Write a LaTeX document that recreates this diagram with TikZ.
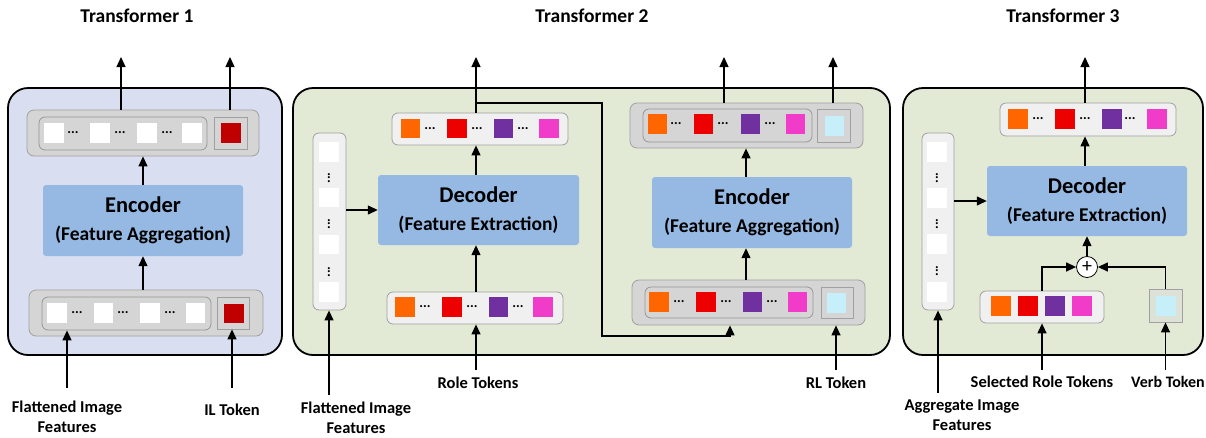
\documentclass[tikz,border=0pt]{standalone}
\usepackage{fontspec}
\setmainfont{Carlito}
\usetikzlibrary{arrows.meta}
\definecolor{bgA}{RGB}{217,223,240}
\definecolor{bgG}{RGB}{226,234,214}
\definecolor{blkC}{RGB}{149,185,226}
\definecolor{rowG}{RGB}{213,213,213}
\definecolor{rowB}{RGB}{160,160,160}
\definecolor{rowB2}{RGB}{150,150,150}
\definecolor{rowL}{RGB}{240,240,240}
\definecolor{cOr}{RGB}{255,102,0}
\definecolor{cRd}{RGB}{236,0,0}
\definecolor{cPu}{RGB}{112,48,160}
\definecolor{cPk}{RGB}{240,60,200}
\definecolor{cDR}{RGB}{192,0,0}
\definecolor{cLB}{RGB}{198,239,250}
\newcommand{\enctxt}{Encoder\\{\fontsize{19.5}{28}\selectfont (Feature Aggregation)}}
\newcommand{\dectxt}{Decoder\\{\fontsize{19.5}{28}\selectfont (Feature Extraction)}}
\begin{document}
\begin{tikzpicture}[x=1pt,y=-1pt,
  panel/.style={draw=black, line width=1.8pt, rounded corners=20pt, inner sep=0},
  grayrow/.style={draw=rowB, fill=rowG, line width=0.8pt, rounded corners=7pt, inner sep=0},
  innerrow/.style={draw=rowB2, fill=rowG, line width=0.8pt, rounded corners=6pt, inner sep=0},
  lightrow/.style={draw=rowB, fill=rowL, line width=0.8pt, rounded corners=6pt, inner sep=0},
  cont/.style={draw=rowB, fill=rowG, line width=0.8pt, inner sep=0},
  blk/.style={fill=blkC, rounded corners=3pt, inner sep=0, align=center, font=\bfseries\fontsize{22.5}{28}\selectfont},
  sq/.style={minimum size=19.5pt, inner sep=0},
  dts/.style={inner sep=0, font=\bfseries\fontsize{14}{14}\selectfont},
  arr/.style={line width=1.3pt, -{Triangle[length=10pt,width=9pt]}},
  lbl/.style={font=\bfseries\fontsize{16.5}{20}\selectfont, align=center, inner sep=0},
  ttl/.style={font=\bfseries\fontsize{19.5}{22}\selectfont, inner sep=0}]
\useasboundingbox (0,0) rectangle (1206,437);

% titles
\node[ttl] (ttl1) at (137,16) {Transformer 1};
\node[ttl] (ttl2) at (592,16) {Transformer 2};
\node[ttl] (ttl3) at (1063,16) {Transformer 3};

% panels
\node[panel, fill=bgA, minimum width=274pt, minimum height=267pt] (p1) at (145,221.5) {};
\node[panel, fill=bgG, minimum width=597pt, minimum height=267pt] (p2) at (591.5,221.5) {};
\node[panel, fill=bgG, minimum width=300pt, minimum height=267pt] (p3) at (1053,221.5) {};

% ===== Transformer 1 =====
\node[grayrow, minimum width=232pt, minimum height=46pt] (t1top) at (143,133) {};
\node[innerrow, minimum width=168pt, minimum height=33pt] (t1topin) at (123,133.5) {};
\node[cont, minimum width=33pt, minimum height=32pt] (t1topc) at (230.5,133) {};
\node[sq, fill=cDR] (t1topr) at (231,133) {};
\node[sq, fill=white] (t1ta) at (54,133) {};
\node[sq, fill=white] (t1tb) at (100,133) {};
\node[sq, fill=white] (t1tc) at (147,133) {};
\node[sq, fill=white] (t1td) at (192,133) {};
\node[dts] (t1d1) at (73,133) {...};
\node[dts] (t1d2) at (120,133) {...};
\node[dts] (t1d3) at (167,133) {...};

\node[blk, minimum width=200pt, minimum height=71pt] (enc1) at (143,220.5) {\enctxt};

\node[grayrow, minimum width=234pt, minimum height=46pt] (t1bot) at (146,313) {};
\node[innerrow, minimum width=169pt, minimum height=33pt] (t1botin) at (126.5,313.5) {};
\node[cont, minimum width=32pt, minimum height=32pt] (t1botc) at (233,313) {};
\node[sq, fill=cDR] (t1botr) at (234,313.5) {};
\node[sq, fill=white] (t1ba) at (57,313) {};
\node[sq, fill=white] (t1bb) at (103.5,313) {};
\node[sq, fill=white] (t1bc) at (150,313) {};
\node[sq, fill=white] (t1bd) at (195.5,313) {};
\node[dts] (t1e1) at (77,313) {...};
\node[dts] (t1e2) at (123,313) {...};
\node[dts] (t1e3) at (170,313) {...};

\coordinate (o1a) at (121,57);
\coordinate (o1b) at (230,57);
\draw[arr] (t1top.north -| o1a) -- (o1a);
\draw[arr] (t1top.north -| o1b) -- (o1b);
\draw[arr] (enc1.north) -- (enc1.north |- t1top.south);
\draw[arr] (t1bot.north -| enc1.south) -- (enc1.south);

\node[lbl] (l1a) at (67,417) {Flattened Image\\Features};
\node[lbl] (l1b) at (232,410) {IL Token};
\coordinate (i1a) at (67,388);
\coordinate (i1b) at (232,388);
\draw[arr] (i1a) -- (i1a |- t1botin.south);
\draw[arr] (i1b) -- (i1b |- t1botc.south);

% ===== Transformer 2 =====
\node[lightrow, minimum width=33pt, minimum height=177pt] (col2) at (329.5,221.5) {};
\node[sq, fill=white] (c2a) at (329,152) {};
\node[sq, fill=white] (c2b) at (329,197.5) {};
\node[sq, fill=white] (c2c) at (329,244.5) {};
\node[sq, fill=white] (c2d) at (329,292) {};
\node[dts, rotate=90] (c2v1) at (329,178) {...};
\node[dts, rotate=90] (c2v2) at (329,224) {...};
\node[dts, rotate=90] (c2v3) at (329,272) {...};

\node[blk, minimum width=201pt, minimum height=70pt] (dec2) at (478.5,210) {\dectxt};

\node[lightrow, minimum width=176pt, minimum height=32pt] (d2top) at (480,129) {};
\node[sq, fill=cOr] (d2ta) at (410.5,128.5) {};
\node[sq, fill=cRd] (d2tb) at (457,128.5) {};
\node[sq, fill=cPu] (d2tc) at (503.5,128.5) {};
\node[sq, fill=cPk] (d2td) at (549,128.5) {};
\node[dts] (d2d1) at (430,128.5) {...};
\node[dts] (d2d2) at (477,128.5) {...};
\node[dts] (d2d3) at (523,128.5) {...};

\node[lightrow, minimum width=176pt, minimum height=32pt] (d2bot) at (475,308) {};
\node[sq, fill=cOr] (d2ba) at (405,307) {};
\node[sq, fill=cRd] (d2bb) at (452,307) {};
\node[sq, fill=cPu] (d2bc) at (498.5,307) {};
\node[sq, fill=cPk] (d2bd) at (543,307) {};
\node[dts] (d2e1) at (425,307) {...};
\node[dts] (d2e2) at (472,307) {...};
\node[dts] (d2e3) at (518,307) {...};

\node[grayrow, minimum width=233pt, minimum height=45pt] (e2top) at (746.5,125.5) {};
\node[innerrow, minimum width=169pt, minimum height=33pt] (e2topin) at (727.5,125.5) {};
\node[cont, minimum width=33pt, minimum height=33pt] (e2topc) at (833.5,125.5) {};
\node[sq, fill=cLB] (e2topl) at (834.5,126) {};
\node[sq, fill=cOr] (e2ta) at (657.5,124) {};
\node[sq, fill=cRd] (e2tb) at (703.5,124) {};
\node[sq, fill=cPu] (e2tc) at (750.5,124) {};
\node[sq, fill=cPk] (e2td) at (795.5,124) {};
\node[dts] (e2d1) at (676,124) {...};
\node[dts] (e2d2) at (723,124) {...};
\node[dts] (e2d3) at (770,124) {...};

\node[blk, minimum width=200pt, minimum height=71pt] (enc2) at (752,212.5) {\enctxt};

\node[grayrow, minimum width=233pt, minimum height=45pt] (e2bot) at (748.5,302.5) {};
\node[innerrow, minimum width=168pt, minimum height=31pt] (e2botin) at (729,302.5) {};
\node[cont, minimum width=32pt, minimum height=31pt] (e2botc) at (837,302.5) {};
\node[sq, fill=cLB] (e2botl) at (836.5,303) {};
\node[sq, fill=cOr] (e2ba) at (659,302) {};
\node[sq, fill=cRd] (e2bb) at (706,302) {};
\node[sq, fill=cPu] (e2bc) at (752.5,302) {};
\node[sq, fill=cPk] (e2bd) at (797.5,302) {};
\node[dts] (e2e1) at (679,302) {...};
\node[dts] (e2e2) at (726,302) {...};
\node[dts] (e2e3) at (772,302) {...};

\draw[arr] (col2.east |- dec2.west) -- (dec2.west);
\coordinate (o2) at (476,57);
\draw[arr] (dec2.north -| o2) -- (d2top.south -| o2);
\draw[arr] (d2bot.north -| o2) -- (dec2.south -| o2);
\draw[arr] (d2top.north -| o2) -- (o2);
\coordinate (br2) at (602,103);
\coordinate (cr2) at (730,336);
\draw[arr] (o2 |- br2) -- (br2) |- (cr2) -- (cr2 |- e2bot.south);
\coordinate (o2a) at (724,57);
\coordinate (o2b) at (833,57);
\draw[arr] (e2top.north -| o2a) -- (o2a);
\draw[arr] (e2top.north -| o2b) -- (o2b);
\coordinate (m2) at (746,0);
\draw[arr] (enc2.north -| m2) -- (e2top.south -| m2);
\draw[arr] (e2bot.north -| m2) -- (enc2.south -| m2);

\node[lbl] (l2a) at (356,418) {Flattened Image\\Features};
\node[lbl] (l2b) at (478,383) {Role Tokens};
\node[lbl] (l2c) at (836,383) {RL Token};
\coordinate (i2a) at (329,395);
\coordinate (i2b) at (476,370);
\coordinate (i2c) at (836,370);
\draw[arr] (i2a) -- (i2a |- col2.south);
\draw[arr] (i2b) -- (i2b |- d2bot.south);
\draw[arr] (i2c) -- (i2c |- e2bot.south);

% ===== Transformer 3 =====
\node[lightrow, minimum width=32pt, minimum height=177pt] (col3) at (938,221.5) {};
\node[sq, fill=white] (c3a) at (937,152) {};
\node[sq, fill=white] (c3b) at (937,198) {};
\node[sq, fill=white] (c3c) at (937,244) {};
\node[sq, fill=white] (c3d) at (937,292) {};
\node[dts, rotate=90] (c3v1) at (937,178) {...};
\node[dts, rotate=90] (c3v2) at (937,224) {...};
\node[dts, rotate=90] (c3v3) at (937,271) {...};

\node[blk, minimum width=200pt, minimum height=70pt] (dec3) at (1087,201) {\dectxt};

\node[lightrow, minimum width=176pt, minimum height=33pt] (t3top) at (1088,119.5) {};
\node[sq, fill=cOr] (t3ta) at (1018,119) {};
\node[sq, fill=cRd] (t3tb) at (1065,119) {};
\node[sq, fill=cPu] (t3tc) at (1112,119) {};
\node[sq, fill=cPk] (t3td) at (1157,119) {};
\node[dts] (t3d1) at (1038,119) {...};
\node[dts] (t3d2) at (1085,119) {...};
\node[dts] (t3d3) at (1130,119) {...};

\node[circle, draw=black, line width=0.8pt, fill=white, minimum size=21pt, inner sep=0, font=\fontsize{20}{20}\selectfont] (plus) at (1087,267) {+};

\node[lightrow, minimum width=124pt, minimum height=32pt] (sel3) at (1042,307) {};
\node[sq, fill=cOr] (s3a) at (1001,306) {};
\node[sq, fill=cRd] (s3b) at (1028,306) {};
\node[sq, fill=cPu] (s3c) at (1055,306) {};
\node[sq, fill=cPk] (s3d) at (1082,306) {};

\node[cont, fill=rowG!40!bgG, minimum width=33pt, minimum height=33pt] (verb3) at (1165.5,305.5) {};
\node[sq, fill=cLB] (verb3l) at (1166,306) {};

\draw[arr] (col3.east |- dec3.west) -- (dec3.west);
\coordinate (o3) at (1085,57);
\draw[arr] (dec3.north -| o3) -- (t3top.south -| o3);
\draw[arr] (t3top.north -| o3) -- (o3);
\draw[arr] (plus.north) -- (plus.north |- dec3.south);
\draw[arr] (sel3.north) |- (plus.west);
\draw[arr] (verb3.north) |- (plus.east);

\node[lbl] (l3a) at (962,415) {Aggregate Image\\Features};
\node[lbl] (l3b) at (1042,382) {Selected Role Tokens};
\node[lbl, font=\bfseries\fontsize{16}{20}\selectfont] (l3c) at (1168,382) {Verb Token};
\coordinate (i3a) at (938,393);
\coordinate (i3b) at (1042,370);
\coordinate (i3c) at (1165.5,370);
\draw[arr] (i3a) -- (i3a |- col3.south);
\draw[arr] (i3b) -- (i3b |- sel3.south);
\draw[arr] (i3c) -- (i3c |- verb3.south);
\end{tikzpicture}
\end{document}
